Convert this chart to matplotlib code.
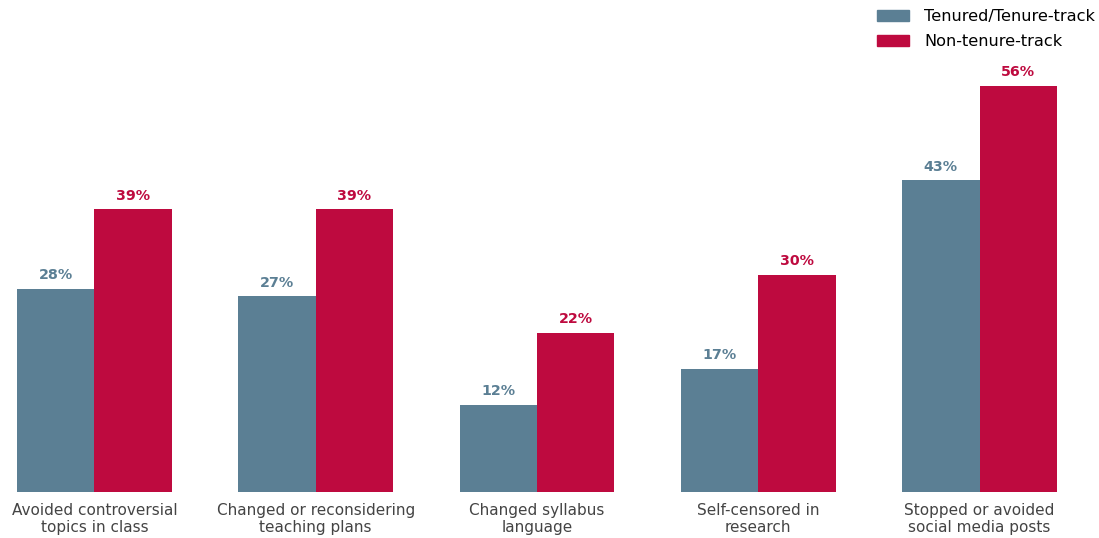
import numpy as np
import matplotlib.pyplot as plt
from matplotlib.patches import Patch

categories = ["Avoided controversial\ntopics in class",
              "Changed or reconsidering\nteaching plans",
              "Changed syllabus\nlanguage",
              "Self-censored in\nresearch",
              "Stopped or avoided\nsocial media posts"]
tenured = [28, 27, 12, 17, 43]
non_tenure = [39, 39, 22, 30, 56]
series_names = ["Tenured/Tenure-track", "Non-tenure-track"]

c_ten = "#5b7f94"
c_non = "#be0a3f"

fig = plt.figure(figsize=(10.99, 5.38), dpi=100)
ax = fig.add_axes([17 / 1099, 46 / 538, 1040 / 1099, 435 / 538])

x = np.arange(len(categories))
w = 0.35
b1 = ax.bar(x - w / 2, tenured, w, color=c_ten)
b2 = ax.bar(x + w / 2, non_tenure, w, color=c_non)

for bars, vals, col in [(b1, tenured, c_ten), (b2, non_tenure, c_non)]:
    for b, v in zip(bars, vals):
        ax.text(b.get_x() + b.get_width() / 2, v + 0.9, f"{v}%", ha="center", va="bottom",
                color=col, fontsize=10.3, fontweight="bold")

ax.set_xlim(-0.35, len(categories) - 1 + 0.35)
ax.set_ylim(0, 60)
ax.set_xticks(x)
ax.set_xticklabels(categories, fontsize=11, color="#444444", linespacing=1.15)
ax.tick_params(axis="x", length=0, pad=8)
ax.set_yticks([])
for s in ax.spines.values():
    s.set_visible(False)

handles = [Patch(color=c_ten), Patch(color=c_non)]
fig.legend(handles, series_names, loc="upper right", bbox_to_anchor=(1.0095, 1.01),
           frameon=False, fontsize=11.6, handlelength=2.0, handleheight=0.75,
           labelspacing=0.62, handletextpad=0.9)

fig.savefig("out.png", dpi=100)
